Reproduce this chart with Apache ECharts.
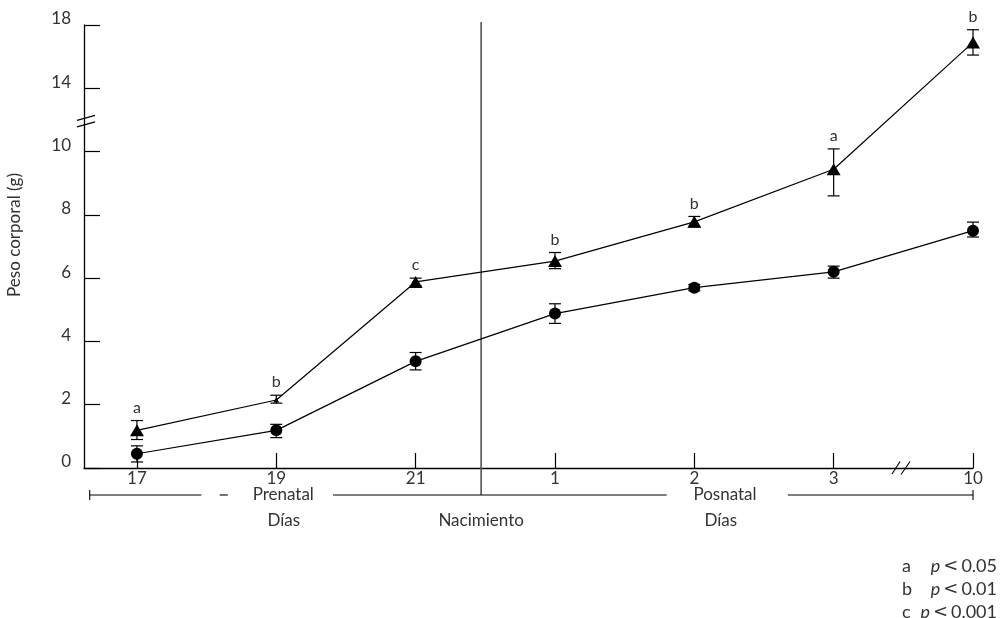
<!DOCTYPE html>
<html><head><meta charset="utf-8">
<script src="https://cdn.jsdelivr.net/npm/echarts@6/dist/echarts.min.js"></script>
<style>html,body{margin:0;padding:0;background:#fff}#chart{width:1001px;height:618px}</style>
</head><body><div id="chart"></div>
<script>
// ---- data ----
const categories = ['17', '19', '21', '1', '2', '3', '10'];
const triMean  = [1.19, 2.15, 5.88, 6.54, 7.78, 9.44, 16.9];
const triLow   = [0.90, 2.05, 5.76, 6.30, 7.62, 8.60, 16.1];
const triHigh  = [1.50, 2.30, 6.00, 6.81, 7.95, 10.17, 17.7];
const circMean = [0.45, 1.19, 3.37, 4.88, 5.70, 6.20, 7.50];
const circLow  = [0.19, 0.96, 3.10, 4.57, 5.60, 6.00, 7.30];
const circHigh = [0.70, 1.38, 3.65, 5.19, 5.80, 6.38, 7.77];
const sigLetters = ['a', 'b', 'c', 'b', 'b', 'a', 'b'];
const yTickLabels = [0, 2, 4, 6, 8, 10, 14, 18];
const legendRows = [['a', '0.05'], ['b', '0.01'], ['c', '0.001']];
const yAxisTitle = 'Peso corporal (g)';
const groupLabels = ['Prenatal', 'Posnatal'];
const subLabels = ['Días', 'Nacimiento', 'Días'];

// ---- broken y scale: above 10 the axis is compressed 2:1 ----
function disp(v) { return v <= 10 ? v : 10 + (v - 10) / 2; }

const FONT = 'Lato, "Open Sans", "DejaVu Sans", sans-serif';
const TXT = '#333';
const FS = 17;

// layout in axis (index) units
const L = {
  birth: 2.47, xBreak: 5.48, yBreak: 11.05,
  left: -0.339, seg1End: 0.463, dashStart: 0.594, dashEnd: 0.652,
  preCenter: 1.05, seg2Start: 1.407, seg2End: 3.802, postCenter: 4.22,
  seg3Start: 4.671, right: 6, dias1: 1.054, nac: 2.47, dias2: 4.19
};

const chart = echarts.init(document.getElementById('chart'), null, { renderer: 'canvas' });

function errRender(params, api) {
  const x = api.value(0);
  const lo = api.coord([x, api.value(1)]);
  const hi = api.coord([x, api.value(2)]);
  const w = 6;
  const style = { stroke: '#000', lineWidth: 1.2, fill: null };
  return {
    type: 'group', children: [
      { type: 'line', shape: { x1: lo[0], y1: lo[1], x2: hi[0], y2: hi[1] }, style },
      { type: 'line', shape: { x1: lo[0] - w, y1: lo[1], x2: lo[0] + w, y2: lo[1] }, style },
      { type: 'line', shape: { x1: hi[0] - w, y1: hi[1], x2: hi[0] + w, y2: hi[1] }, style }
    ]
  };
}

function letterRender(params, api) {
  const p = api.coord([api.value(0), api.value(1)]);
  return {
    type: 'text',
    style: {
      text: sigLetters[params.dataIndex], x: p[0], y: p[1] - 13,
      align: 'center', verticalAlign: 'middle',
      fontSize: 16, fontFamily: FONT, fill: TXT
    }
  };
}

function decorRender(params, api) {
  const axisY = api.coord([0, 0])[1];
  const top = api.coord([0, 14])[1];
  const bY = axisY + 27;
  const X = i => api.coord([i, 0])[0];
  const ln = { stroke: '#000', lineWidth: 1.1, fill: null };
  const ch = [];
  const line = (x1, y1, x2, y2, st) => ch.push({ type: 'line', shape: { x1, y1, x2, y2 }, style: st || ln });
  const text = (t, x, y) => ch.push({ type: 'text', style: { text: t, x, y, align: 'center', verticalAlign: 'middle', fontSize: FS, fontFamily: FONT, fill: TXT } });
  // vertical birth line
  line(X(L.birth), top - 3, X(L.birth), bY, { stroke: '#555', lineWidth: 1.6 });
  // y axis break
  const yb = api.coord([0, L.yBreak]);
  const axX = X(-0.38);
  const bst = { stroke: '#000', lineWidth: 1.1 };
  line(axX - 7, yb[1] + 2, axX + 11, yb[1] - 3, bst);
  line(axX - 7, yb[1] + 8.5, axX + 11, yb[1] + 3.5, bst);
  // x axis break
  const xb = X(L.xBreak);
  line(xb - 8.5, axisY + 6, xb - 0.5, axisY - 6.5, bst);
  line(xb + 0.5, axisY + 6.5, xb + 9.5, axisY - 6.5, bst);
  // bracket row
  line(X(L.left), bY, X(L.seg1End), bY);
  line(X(L.left), bY - 5, X(L.left), bY + 5);
  line(X(L.dashStart), bY, X(L.dashEnd), bY);
  line(X(L.seg2Start), bY, X(L.seg2End), bY);
  line(X(L.seg3Start), bY, X(L.right), bY);
  line(X(L.right), bY - 5, X(L.right), bY + 5);
  text(groupLabels[0], X(L.preCenter), bY);
  text(groupLabels[1], X(L.postCenter), bY);
  text(subLabels[0], X(L.dias1), bY + 26);
  text(subLabels[1], X(L.nac), bY + 26);
  text(subLabels[2], X(L.dias2), bY + 26);
  return { type: 'group', children: ch };
}

const idx = categories.map((c, i) => i);
const yDispTicks = yTickLabels.map(disp);

const graphics = [
  { type: 'text', x: 15, y: 235, rotation: Math.PI / 2,
    style: { text: yAxisTitle, align: 'center', verticalAlign: 'middle', fontSize: FS, fontFamily: FONT, fill: TXT } }
];
legendRows.forEach((r, k) => {
  const y = 566 + k * 23;
  graphics.push({ type: 'text', x: 902, y, style: { text: r[0], align: 'left', verticalAlign: 'middle', fontSize: 18, fontFamily: FONT, fill: TXT } });
  graphics.push({ type: 'text', x: 997, y, style: {
    text: '{it|p}{lt|<}' + r[1], align: 'right', verticalAlign: 'middle', fontSize: 18, fontFamily: FONT, fill: TXT,
    rich: {
      it: { fontStyle: 'italic', fontSize: 18, fontFamily: FONT, fill: TXT },
      lt: { fontSize: 18, fontFamily: '"DejaVu Sans", sans-serif', fill: TXT, padding: [0, 3, 0, 3] }
    } } });
});

chart.setOption({
  animation: false,
  backgroundColor: '#fff',
  grid: { left: 84, right: 28, top: 25, bottom: 150, containLabel: false },
  xAxis: {
    type: 'value', min: -0.38, max: 6,
    splitLine: { show: false },
    axisLine: { show: true, onZero: false, lineStyle: { color: '#000', width: 1.3 } },
    axisTick: { show: true, inside: true, length: 15, customValues: idx, lineStyle: { color: '#000', width: 1.2 } },
    axisLabel: { customValues: idx, formatter: v => categories[Math.round(v)], margin: 2,
      fontSize: FS, fontFamily: FONT, color: TXT }
  },
  yAxis: {
    type: 'value', min: 0, max: 14, interval: 2,
    splitLine: { show: false },
    axisLine: { show: true, onZero: false, lineStyle: { color: '#000', width: 1.3 } },
    axisTick: { show: true, inside: true, length: 16, lineStyle: { color: '#000', width: 1.2 } },
    axisLabel: { margin: 13, verticalAlign: 'bottom', lineHeight: 12, fontSize: FS, fontFamily: FONT, color: TXT,
      formatter: v => { const k = yDispTicks.indexOf(v); return k >= 0 ? String(yTickLabels[k]) : ''; } }
  },
  graphic: graphics,
  series: [
    { type: 'custom', name: 'decor', silent: true, clip: false, z: 1,
      renderItem: decorRender, data: [[0, 0]] },
    { type: 'custom', name: 'errTri', silent: true, clip: false, z: 2,
      renderItem: errRender, encode: { x: 0, y: [1, 2] },
      data: idx.map(i => [i, disp(triLow[i]), disp(triHigh[i])]) },
    { type: 'custom', name: 'errCirc', silent: true, clip: false, z: 2,
      renderItem: errRender, encode: { x: 0, y: [1, 2] },
      data: idx.map(i => [i, disp(circLow[i]), disp(circHigh[i])]) },
    { type: 'custom', name: 'letters', silent: true, clip: false, z: 3,
      renderItem: letterRender, encode: { x: 0, y: 1 },
      data: idx.map(i => [i, disp(triHigh[i])]) },
    { type: 'line', name: 'tri', z: 4, symbol: 'triangle',
      symbolSize: (v, p) => p.dataIndex === 1 ? [6, 5] : [14, 12],
      showAllSymbol: true,
      itemStyle: { color: '#000' }, lineStyle: { color: '#000', width: 1.2 },
      data: idx.map(i => [i, disp(triMean[i])]) },
    { type: 'line', name: 'circ', z: 4, symbol: 'circle', symbolSize: 12,
      showAllSymbol: true,
      itemStyle: { color: '#000' }, lineStyle: { color: '#000', width: 1.2 },
      data: idx.map(i => [i, disp(circMean[i])]) }
  ]
});
</script>
</body></html>
